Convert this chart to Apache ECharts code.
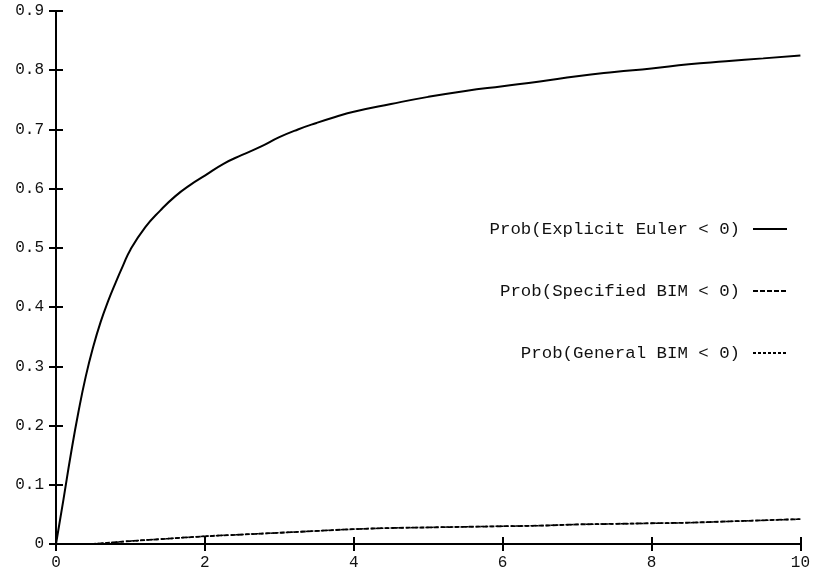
<!DOCTYPE html>
<html>
<head>
<meta charset="utf-8">
<script src="https://cdn.jsdelivr.net/npm/echarts@6/dist/echarts.min.js"></script>
<style>html,body{margin:0;padding:0;background:#fff}#c{width:813px;height:571px}</style>
</head>
<body>
<div id="c"></div>
<script>
// Data
const eulerX = [0, 0.1, 0.2, 0.3, 0.4, 0.5, 0.6, 0.7, 0.8, 0.9, 1.0, 1.2, 1.4, 1.6, 1.8, 2.0, 2.25, 2.5, 2.75, 3.0, 3.25, 3.5, 3.75, 4.0, 4.5, 5.0, 5.5, 6.0, 6.5, 7.0, 7.5, 8.0, 8.5, 9.0, 9.5, 10];
const eulerY = [0, 0.075, 0.152, 0.222, 0.283, 0.333, 0.375, 0.41, 0.441, 0.47, 0.497, 0.535, 0.563, 0.587, 0.606, 0.622, 0.642, 0.657, 0.671, 0.687, 0.700, 0.711, 0.721, 0.730, 0.743, 0.755, 0.765, 0.773, 0.781, 0.790, 0.797, 0.803, 0.810, 0.815, 0.820, 0.825];
const bimX = [0, 0.4, 0.6, 0.8, 1.0, 1.5, 2.0, 2.5, 3.0, 3.5, 4.0, 4.5, 5.0, 5.5, 6.0, 6.5, 7.0, 7.5, 8.0, 8.5, 9.0, 9.5, 10];
const specifiedY = [0, 0, 0.001, 0.003, 0.005, 0.009, 0.013, 0.016, 0.019, 0.022, 0.025, 0.027, 0.028, 0.029, 0.030, 0.031, 0.033, 0.034, 0.035, 0.036, 0.038, 0.040, 0.042];
const generalY = [0, 0, 0.001, 0.003, 0.005, 0.009, 0.013, 0.016, 0.019, 0.022, 0.025, 0.027, 0.028, 0.029, 0.030, 0.031, 0.033, 0.034, 0.035, 0.036, 0.038, 0.040, 0.042];
const names = ['Prob(Explicit Euler < 0)', 'Prob(Specified BIM < 0)', 'Prob(General BIM < 0)'];

const zip = (xs, ys) => xs.map((x, i) => [x, ys[i]]);
const font = "'Liberation Mono', 'DejaVu Sans Mono', monospace";
const axisLine = { show: true, lineStyle: { color: '#000', width: 2 } };
const tick = { show: true, inside: true, length: 7, lineStyle: { color: '#000', width: 2 } };
const lbl = { color: '#111', fontFamily: font, fontSize: 16 };

const chart = echarts.init(document.getElementById('c'));
chart.setOption({
  animation: false,
  backgroundColor: '#fff',
  grid: { left: 56, right: 10, top: 11, bottom: 27, containLabel: false },
  xAxis: [
    { type: 'value', min: 0, max: 10, interval: 2, position: 'bottom', axisLine, axisTick: tick, splitLine: { show: false }, axisLabel: Object.assign({ margin: 11 }, lbl) },
    { type: 'value', min: 0, max: 10, interval: 2, position: 'top', axisLine, axisTick: tick, splitLine: { show: false }, axisLabel: { show: false } }
  ],
  yAxis: [
    { type: 'value', min: 0, max: 0.9, interval: 0.1, position: 'left', axisLine, axisTick: tick, splitLine: { show: false }, axisLabel: Object.assign({ margin: 12 }, lbl) },
    { type: 'value', min: 0, max: 0.9, interval: 0.1, position: 'right', axisLine, axisTick: tick, splitLine: { show: false }, axisLabel: { show: false } }
  ],
  legend: {
    orient: 'vertical',
    right: 20,
    top: 215,
    align: 'right',
    itemWidth: 34,
    itemHeight: 14,
    itemGap: 44,
    itemStyle: { opacity: 0 },
    textStyle: { color: '#111', fontFamily: font, fontSize: 17.4, lineHeight: 18, padding: [0, 8, 0, 0] },
    data: names
  },
  series: [
    { name: names[0], type: 'line', data: zip(eulerX, eulerY), showSymbol: false, symbol: 'none', smooth: true, lineStyle: { color: '#000', width: 2 }, itemStyle: { color: '#000' } },
    { name: names[1], type: 'line', data: zip(bimX, specifiedY), showSymbol: false, symbol: 'none', smooth: true, lineStyle: { color: '#000', width: 1.8, type: [5, 2] }, itemStyle: { color: '#000' } },
    { name: names[2], type: 'line', data: zip(bimX, generalY), showSymbol: false, symbol: 'none', smooth: true, lineStyle: { color: '#000', width: 1.5, type: [3, 2] }, itemStyle: { color: '#000' } }
  ]
});
</script>
</body>
</html>
